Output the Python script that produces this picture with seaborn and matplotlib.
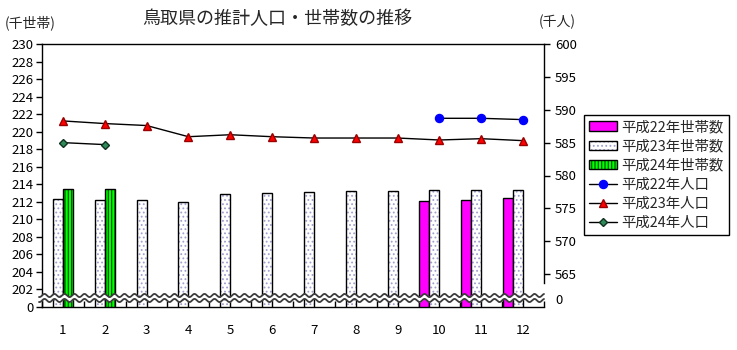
import numpy as np
import pandas as pd
import matplotlib
matplotlib.use("Agg")
import matplotlib.pyplot as plt
import matplotlib.colors as mcolors
import seaborn as sns
from matplotlib.patches import Patch, Rectangle
from matplotlib.lines import Line2D

# ---------------- data ----------------
months = [str(m) for m in range(1, 13)]
nan = np.nan
hh_h22 = [nan, nan, nan, nan, nan, nan, nan, nan, nan, 212.1, 212.2, 212.4]
hh_h23 = [212.3, 212.2, 212.2, 212.0, 212.9, 213.0, 213.1, 213.2, 213.2, 213.3, 213.4, 213.4]
hh_h24 = [213.5, 213.5, nan, nan, nan, nan, nan, nan, nan, nan, nan, nan]
pop_h22 = [nan, nan, nan, nan, nan, nan, nan, nan, nan, 588.7, 588.7, 588.5]
pop_h23 = [588.3, 587.9, 587.6, 585.9, 586.2, 585.9, 585.7, 585.7, 585.7, 585.4, 585.6, 585.3]
pop_h24 = [585.0, 584.7, nan, nan, nan, nan, nan, nan, nan, nan, nan, nan]

bar_names = ["平成22年世帯数", "平成23年世帯数", "平成24年世帯数"]
line_names = ["平成22年人口", "平成23年人口", "平成24年人口"]
left_ticks = list(range(200, 231, 2))
left_labels = ["0"] + [str(v) for v in range(202, 231, 2)]
right_ticks = [561.2, 565, 570, 575, 580, 585, 590, 595, 600]
right_labels = ["0", "565", "570", "575", "580", "585", "590", "595", "600"]
title = "鳥取県の推計人口・世帯数の推移"

# ---------------- style ----------------
sns.set_style("white")
plt.rcParams["font.family"] = ["Noto Sans CJK JP", "DejaVu Sans"]
plt.rcParams["hatch.linewidth"] = 0.8

MAG = "#FF00FF"
WHITE = "#FFFFFF"
GREEN = "#00FF00"
DOT = "#A0A0D0"
STRIPE = "#004400"

fig = plt.figure(figsize=(7.37, 3.5), dpi=100)
ax = fig.add_axes([42 / 737, 1 - 307 / 350, (544 - 42) / 737, (307 - 44) / 350])

rows = []
for name, vals in zip(bar_names, [hh_h22, hh_h23, hh_h24]):
    for m, v in zip(months, vals):
        rows.append({"month": m, "series": name, "value": v})
df = pd.DataFrame(rows)

pal = {bar_names[0]: MAG, bar_names[1]: WHITE, bar_names[2]: GREEN, "_pad": WHITE}
sns.barplot(data=df, x="month", y="value", hue="series",
            hue_order=bar_names + ["_pad"], order=months, palette=pal,
            width=0.96, dodge=True, saturation=1, errorbar=None,
            edgecolor="black", linewidth=1, legend=False, ax=ax)

white_rgba = mcolors.to_rgba(WHITE)
green_rgba = mcolors.to_rgba(GREEN)
for p in list(ax.patches):
    fc = tuple(p.get_facecolor())
    if np.allclose(fc, white_rgba):
        p.set_hatch("....")
        p.set_edgecolor(DOT)
        p.set_linewidth(0)
    elif np.allclose(fc, green_rgba):
        p.set_hatch("|||||")
        p.set_edgecolor(STRIPE)
        p.set_linewidth(0)
    else:
        continue
    ax.add_patch(Rectangle((p.get_x(), p.get_y()), p.get_width(), p.get_height(),
                           fill=False, edgecolor="black", linewidth=1,
                           zorder=p.get_zorder() + 0.1))

ax.set_ylim(200, 230)
ax.set_yticks(left_ticks)
ax.set_yticklabels(left_labels)
ax.set_xticks(range(12))
ax.set_xticklabels(months)
ax.set_xticks(np.arange(-0.5, 12, 1), minor=True)
ax.set_xlabel("")
ax.set_ylabel("")
ax.tick_params(axis="x", which="major", length=0, pad=12, labelsize=9.5, colors="black")
ax.tick_params(axis="x", which="minor", direction="in", length=4, width=1, color="black", bottom=True)
ax.tick_params(axis="y", direction="out", length=4, width=1, pad=2, labelsize=9.5,
               colors="black", left=True)
for s in ["top", "left", "bottom"]:
    ax.spines[s].set_color("black")
    ax.spines[s].set_linewidth(1)
ax.spines["right"].set_visible(False)

# ---------------- lines ----------------
ax2 = ax.twinx()
idx = np.arange(12)
styles = [
    dict(marker="o", markersize=5.8, markerfacecolor="#0000FF", markeredgecolor="#0000FF"),
    dict(marker="^", markersize=5.5, markerfacecolor="#FF0000", markeredgecolor="#990000"),
    dict(marker="D", markersize=4, markerfacecolor="#2E8B57", markeredgecolor="#103020"),
]
for vals, st in zip([pop_h22, pop_h23, pop_h24], styles):
    arr = np.array(vals, dtype=float)
    ok = ~np.isnan(arr)
    sns.lineplot(x=idx[ok], y=arr[ok], ax=ax2, color="black", linewidth=1,
                 markeredgewidth=1, legend=False, **st)

ax2.set_ylim(560, 600)
ax2.set_yticks(right_ticks)
ax2.set_yticklabels(right_labels)
ax2.tick_params(axis="y", direction="out", length=4, width=1, pad=4, labelsize=9.5,
                colors="black", right=True)
ax2.yaxis.get_major_ticks()[0].tick2line.set_visible(False)
for s in ["top", "left", "bottom"]:
    ax2.spines[s].set_visible(False)
ax2.spines["right"].set_color("black")
ax2.spines["right"].set_linewidth(1)
ax2.spines["right"].set_bounds(563.6, 600)
ax2.set_xlim(-0.5, 11.5)
ax.set_xlim(-0.5, 11.5)

# ---------------- axis break (wavy band) ----------------
t = np.linspace(-0.006, 1.0, 1200)
amp = 1.6 / 263
period = 10 / 502
y_up = 11.5 / 263 + amp * np.sin(2 * np.pi * t / period)
y_lo = 6.5 / 263 + amp * np.sin(2 * np.pi * t / period)
ax2.fill_between(t, y_lo, y_up, transform=ax.transAxes, color="white",
                 zorder=10, clip_on=False, linewidth=0)
ax2.plot(t, y_up, transform=ax.transAxes, color="#3C3C3C", lw=1.3, zorder=11, clip_on=False)
ax2.plot(t, y_lo, transform=ax.transAxes, color="#3C3C3C", lw=1.3, zorder=11, clip_on=False)

# ---------------- texts ----------------
fig.text(277 / 737, 1 - 19 / 350, title, ha="center", va="center", fontsize=13)
fig.text(5 / 737, 1 - 23 / 350, "(千世帯)", ha="left", va="center", fontsize=10)
fig.text(557 / 737, 1 - 22 / 350, "(千人)", ha="center", va="center", fontsize=10)

# ---------------- legend ----------------
handles = [
    Patch(facecolor=MAG, edgecolor="black", linewidth=1),
    (Patch(facecolor=WHITE, edgecolor=DOT, hatch="....", linewidth=0),
     Patch(fill=False, edgecolor="black", linewidth=1)),
    (Patch(facecolor=GREEN, edgecolor=STRIPE, hatch="|||||", linewidth=0),
     Patch(fill=False, edgecolor="black", linewidth=1)),
]
for st in styles:
    handles.append(Line2D([0], [0], color="black", lw=1, markeredgewidth=1, **st))
leg = fig.legend(handles, bar_names + line_names, loc="upper left",
                 bbox_to_anchor=(584 / 737, 1 - 115 / 350), borderaxespad=0,
                 frameon=True, fancybox=False, edgecolor="black", framealpha=1,
                 fontsize=10.4, handlelength=1.9, handleheight=0.6,
                 labelspacing=0.36, borderpad=0.35, handletextpad=0.35)
leg.get_frame().set_linewidth(1)

fig.savefig("out.png", dpi=100)
